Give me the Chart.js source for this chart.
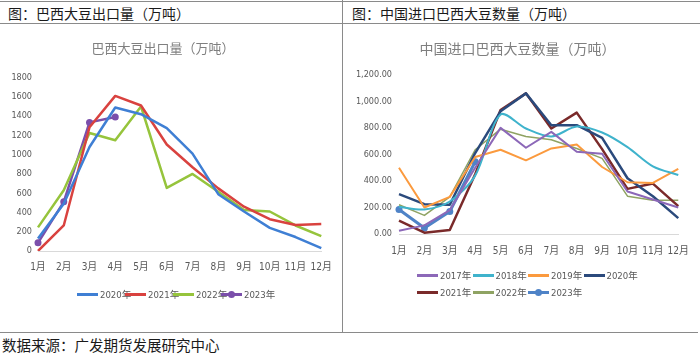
<!DOCTYPE html>
<html lang="zh-CN">
<head>
<meta charset="utf-8">
<script src="https://cdn.jsdelivr.net/npm/chart.js@4.4.0/dist/chart.umd.min.js"></script>
<style>
    body {
        margin: 0;
        background: #ffffff;
    }

    #page {
        position: relative;
        width: 700px;
        height: 354px;
        overflow: hidden;
        font-family: "Noto Sans CJK SC", sans-serif;
        color: #1a1a1a;
    }

    .rule-h {
        position: absolute;
        height: 0;
        border-top: 1.5px solid #8a8a8a;
    }

    .rule-v {
        position: absolute;
        width: 0;
        border-left: 1.5px solid #8a8a8a;
    }

    .caption {
        position: absolute;
        top: 4px;
        font-size: 14px;
        line-height: 18px;
        white-space: nowrap;
    }

    .footer {
        position: absolute;
        left: 2px;
        top: 336px;
        font-size: 14.5px;
        line-height: 18px;
        white-space: nowrap;
    }

    .chart-box {
        position: absolute;
        top: 26px;
        height: 304px;
    }

    .legend {
        position: absolute;
        font-family: "Liberation Sans Narrow", "DejaVu Sans Condensed", "Noto Sans CJK SC", sans-serif;
        font-size: 9.5px;
        color: #595959;
    }

    .legend-item {
        position: absolute;
        display: flex;
        align-items: center;
        white-space: nowrap;
        height: 12px;
    }

    .swatch {
        position: relative;
        width: 21px;
        height: 3px;
        margin-right: 2px;
    }

    .swatch .dot {
        position: absolute;
        left: 7px;
        top: -2px;
        width: 7px;
        height: 7px;
        border-radius: 50%;
    }
</style>
</head>
<body>
<div id="page">
    <div class="rule-h" style="left:0; top:1px; width:700px;"></div>
    <div class="rule-h" style="left:0; top:23px; width:700px;"></div>
    <div class="rule-v" style="left:342px; top:0; height:333px;"></div>
    <div class="rule-h" style="left:0; top:332px; width:698px;"></div>

    <div class="caption" style="left:8px;">图：巴西大豆出口量（万吨）</div>
    <div class="caption" style="left:352px;">图：中国进口巴西大豆数量（万吨）</div>

    <div class="chart-box" style="left:0; width:342px;">
        <canvas id="exportChart"></canvas>
    </div>
    <div class="chart-box" style="left:345px; width:355px;">
        <canvas id="importChart"></canvas>
    </div>

    <div class="legend" id="exportLegend"></div>
    <div class="legend" id="importLegend"></div>

    <div class="footer">数据来源：广发期货发展研究中心</div>
</div>

<script>
/* =========================
   DATOS
========================= */
const MONTHS = ["1月", "2月", "3月", "4月", "5月", "6月", "7月", "8月", "9月", "10月", "11月", "12月"];

/* 巴西大豆出口量（万吨） */
const EXPORT_TITLE = "巴西大豆出口量（万吨）";
const EXPORT_YEARS = ["2020年", "2021年", "2022年", "2023年"];
const EXPORT_2020 = [130, 490, 1080, 1490, 1420, 1275, 1010, 590, 410, 240, 145, 30];
const EXPORT_2021 = [0, 265, 1285, 1610, 1510, 1105, 870, 650, 460, 330, 270, 280];
const EXPORT_2022 = [245, 630, 1225, 1150, 1500, 655, 800, 615, 425, 410, 265, 155];
const EXPORT_2023 = [85, 510, 1335, 1390];
const EXPORT_Y_MAX = 1800;
const EXPORT_Y_STEP = 200;

/* 中国进口巴西大豆数量（万吨） */
const IMPORT_TITLE = "中国进口巴西大豆数量（万吨）";
const IMPORT_YEARS = ["2017年", "2018年", "2019年", "2020年", "2021年", "2022年", "2023年"];
const IMPORT_2017 = [25, 65, 180, 500, 800, 650, 770, 620, 605, 320, 260, 200];
const IMPORT_2018 = [205, 185, 245, 440, 900, 795, 735, 810, 765, 655, 510, 445];
const IMPORT_2019 = [500, 200, 280, 580, 635, 555, 645, 675, 505, 390, 385, 490];
const IMPORT_2020 = [300, 225, 220, 610, 925, 1060, 820, 820, 725, 420, 285, 120];
const IMPORT_2021 = [100, 10, 30, 450, 935, 1060, 795, 915, 640, 340, 380, 210];
const IMPORT_2022 = [220, 140, 280, 635, 790, 735, 710, 645, 570, 285, 255, 255];
const IMPORT_2023 = [185, 45, 170, 545];
const IMPORT_Y_MAX = 1200;
const IMPORT_Y_STEP = 200;

/* =========================
   ESTILOS DE SERIES
========================= */
const EXPORT_COLORS = ["#3f7fd4", "#d9423f", "#96c43c", "#7b4fab"];
const EXPORT_WIDTHS = [2.5, 2.5, 2.5, 2.5];
const EXPORT_MARKERS = [false, false, false, true];

const IMPORT_COLORS = ["#8c68b8", "#3fb3cc", "#fb9a3e", "#2b4a7c", "#7a2a2a", "#8fa363", "#4f83c7"];
const IMPORT_WIDTHS = [2, 2, 2, 2.5, 2.5, 1.5, 3];
const IMPORT_MARKERS = [false, false, false, false, false, false, true];
const IMPORT_TENSION = [0, 0.3, 0, 0, 0, 0, 0];

const TICK_FONT = "'Liberation Sans Narrow', 'DejaVu Sans Condensed', 'Noto Sans CJK SC', sans-serif";
const TITLE_FONT = "'Noto Sans CJK SC', sans-serif";

/* =========================
   INICIO
========================= */
document.addEventListener("DOMContentLoaded", () => {
    buildExportChart();
    buildImportChart();
});

/* =========================
   DATASETS
========================= */
function makeDataset(label, data, color, width, marker, tension) {
    return {
        label: label,
        data: data,
        borderColor: color,
        backgroundColor: color,
        borderWidth: width,
        tension: tension || 0,
        pointRadius: marker ? 3.5 : 0,
        pointHoverRadius: marker ? 4 : 0,
        pointBorderWidth: 0,
        pointBackgroundColor: color,
        borderJoinStyle: "round",
        fill: false
    };
}

/* =========================
   OPCIONES COMUNES
========================= */
function chartOptions(cfg) {
    return {
        responsive: false,
        animation: false,
        devicePixelRatio: 1,
        layout: {
            padding: { left: 0, right: cfg.padRight, top: 0, bottom: 0 }
        },
        plugins: {
            legend: { display: false },
            tooltip: { enabled: false },
            title: {
                display: true,
                text: cfg.title,
                color: "#7f7f7f",
                font: { family: TITLE_FONT, size: cfg.titleSize, weight: "normal" },
                padding: { top: 14, bottom: cfg.titleGap }
            }
        },
        scales: {
            x: {
                grid: { display: false, drawTicks: false },
                border: { display: true, color: "#d9d9d9", width: 1 },
                ticks: {
                    color: "#595959",
                    font: { family: TICK_FONT, size: 10 },
                    padding: cfg.xPad,
                    maxRotation: 0,
                    autoSkip: false
                },
                afterFit: scale => { scale.height = cfg.xHeight; }
            },
            y: {
                min: 0,
                max: cfg.yMax,
                grid: { display: false, drawTicks: false },
                border: { display: false },
                ticks: {
                    stepSize: cfg.yStep,
                    color: "#595959",
                    font: { family: TICK_FONT, size: 9 },
                    padding: cfg.yPad,
                    callback: cfg.tickFormat
                },
                afterFit: scale => { scale.width = cfg.yWidth; }
            }
        }
    };
}

/* =========================
   LEYENDA HTML
========================= */
function buildLegend(id, labels, colors, markers, positions) {
    const box = document.getElementById(id);

    labels.forEach((label, i) => {
        const item = document.createElement("div");
        item.className = "legend-item";
        item.style.left = positions[i][0] + "px";
        item.style.top = positions[i][1] + "px";

        const swatch = document.createElement("span");
        swatch.className = "swatch";
        swatch.style.background = colors[i];

        if (markers[i]) {
            const dot = document.createElement("span");
            dot.className = "dot";
            dot.style.background = colors[i];
            swatch.appendChild(dot);
        }

        const text = document.createElement("span");
        text.innerText = label;

        item.appendChild(swatch);
        item.appendChild(text);
        box.appendChild(item);
    });
}

/* =========================
   GRAFICO 1 - EXPORTACION
========================= */
function buildExportChart() {
    const canvas = document.getElementById("exportChart");
    canvas.width = 342;
    canvas.height = 304;

    const series = [EXPORT_2020, EXPORT_2021, EXPORT_2022, EXPORT_2023];

    new Chart(canvas.getContext("2d"), {
        type: "line",
        data: {
            labels: MONTHS,
            datasets: series.map((data, i) =>
                makeDataset(EXPORT_YEARS[i], data, EXPORT_COLORS[i], EXPORT_WIDTHS[i], EXPORT_MARKERS[i])
            )
        },
        options: chartOptions({
            title: EXPORT_TITLE,
            titleSize: 13,
            titleGap: 22,
            padRight: 16,
            xHeight: 79,
            xPad: 10,
            yMax: EXPORT_Y_MAX,
            yStep: EXPORT_Y_STEP,
            yWidth: 38,
            yPad: 6,
            tickFormat: value => String(value)
        })
    });

    buildLegend(
        "exportLegend",
        EXPORT_YEARS,
        EXPORT_COLORS,
        EXPORT_MARKERS,
        EXPORT_YEARS.map((_, i) => [77 + i * 48, 288])
    );
}

/* =========================
   GRAFICO 2 - IMPORTACION
========================= */
function buildImportChart() {
    const canvas = document.getElementById("importChart");
    canvas.width = 355;
    canvas.height = 304;

    const series = [IMPORT_2017, IMPORT_2018, IMPORT_2019, IMPORT_2020, IMPORT_2021, IMPORT_2022, IMPORT_2023];

    new Chart(canvas.getContext("2d"), {
        type: "line",
        data: {
            labels: MONTHS,
            datasets: series.map((data, i) =>
                makeDataset(IMPORT_YEARS[i], data, IMPORT_COLORS[i], IMPORT_WIDTHS[i], IMPORT_MARKERS[i], IMPORT_TENSION[i])
            )
        },
        options: chartOptions({
            title: IMPORT_TITLE,
            titleSize: 14,
            titleGap: 18,
            padRight: 10,
            xHeight: 96,
            xPad: 11,
            yMax: IMPORT_Y_MAX,
            yStep: IMPORT_Y_STEP,
            yWidth: 54,
            yPad: 7,
            tickFormat: value =>
                value.toLocaleString("en-US", { minimumFractionDigits: 2, maximumFractionDigits: 2 })
        })
    });

    buildLegend(
        "importLegend",
        IMPORT_YEARS,
        IMPORT_COLORS,
        IMPORT_MARKERS,
        IMPORT_YEARS.map((_, i) => [417 + (i % 4) * 55.5, 269 + Math.floor(i / 4) * 17])
    );
}
</script>
</body>
</html>
